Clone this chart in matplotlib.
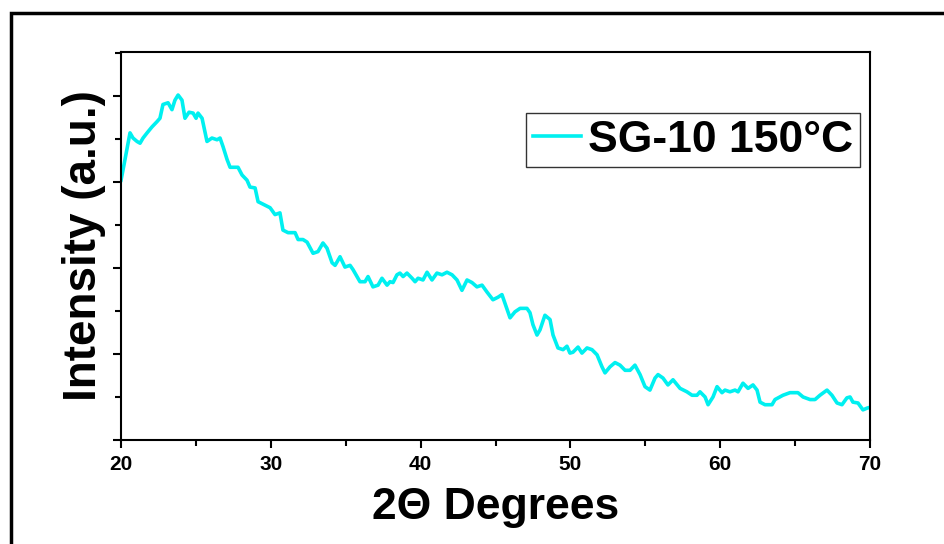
import numpy as np
import matplotlib.pyplot as plt
from matplotlib.patches import Rectangle

# XRD pattern (2theta in degrees, intensity in a.u.)
two_theta = [
    20.00, 20.20, 20.60, 20.80, 21.07, 21.27, 21.47, 21.74, 22.07, 22.40,
    22.60, 22.80, 23.14, 23.40, 23.60, 23.81, 24.07, 24.27, 24.54, 24.81,
    25.01, 25.14, 25.41, 25.74, 26.07, 26.41, 26.61, 26.81, 27.08, 27.28,
    27.61, 27.81, 28.08, 28.41, 28.61, 28.95, 29.15, 29.61, 29.95, 30.28,
    30.61, 30.81, 31.15, 31.62, 31.82, 32.15, 32.42, 32.82, 33.15, 33.48,
    33.75, 34.09, 34.29, 34.62, 34.95, 35.29, 35.49, 35.95, 36.29, 36.49,
    36.82, 37.16, 37.42, 37.76, 37.96, 38.16, 38.42, 38.62, 38.83, 39.09,
    39.43, 39.63, 39.83, 40.16, 40.43, 40.76, 41.09, 41.43, 41.76, 42.10,
    42.43, 42.76, 43.10, 43.43, 43.76, 44.10, 44.43, 44.83, 45.17, 45.43,
    45.63, 45.97, 46.30, 46.64, 47.10, 47.30, 47.50, 47.77, 47.97, 48.30,
    48.64, 48.84, 49.17, 49.51, 49.77, 49.97, 50.17, 50.51, 50.77, 51.11,
    51.44, 51.78, 52.11, 52.31, 52.64, 52.98, 53.31, 53.65, 53.98, 54.31,
    54.65, 54.98, 55.31, 55.65, 55.85, 56.18, 56.51, 56.85, 57.32, 57.78,
    58.12, 58.45, 58.65, 58.99, 59.19, 59.52, 59.79, 60.12, 60.32, 60.65,
    60.99, 61.19, 61.52, 61.86, 62.19, 62.46, 62.66, 62.99, 63.46, 63.66,
    64.19, 64.66, 65.19, 65.53, 66.00, 66.33, 66.66, 67.13, 67.46, 67.80,
    68.13, 68.46, 68.67, 68.86, 69.20, 69.53, 69.80, 70.00,
]
intensity = [
    302, 320, 357, 351, 347, 345, 351, 357, 364, 370,
    374, 390, 392, 384, 395, 401, 395, 374, 381, 380,
    374, 380, 374, 347, 351, 349, 351, 341, 326, 317,
    317, 317, 308, 302, 294, 293, 277, 273, 270, 262,
    264, 244, 241, 241, 233, 233, 230, 217, 219, 229,
    223, 206, 203, 213, 201, 203, 198, 184, 184, 190,
    178, 180, 188, 180, 184, 183, 192, 194, 190, 194,
    188, 184, 188, 186, 195, 186, 194, 192, 195, 192,
    186, 174, 186, 183, 178, 180, 172, 163, 166, 169,
    159, 142, 149, 153, 153, 148, 134, 122, 128, 145,
    140, 122, 107, 105, 109, 101, 102, 108, 101, 107,
    105, 99, 85, 78, 85, 90, 87, 81, 81, 87,
    76, 62, 58, 72, 76, 72, 64, 70, 60, 56,
    52, 52, 56, 50, 41, 50, 62, 55, 58, 56,
    58, 56, 66, 60, 64, 58, 44, 41, 41, 47,
    52, 55, 55, 50, 47, 47, 52, 58, 52, 43,
    41, 49, 50, 44, 43, 35, 37, 38,
]
x_ticks = [20, 30, 40, 50, 60, 70]
label = 'SG-10 150°C'

plt.rcParams['font.family'] = ['Liberation Sans', 'DejaVu Sans']
plt.rcParams['font.weight'] = 'bold'

fig = plt.figure(figsize=(9.44, 5.44), dpi=100)
ax = fig.add_axes([0.1282, 0.1912, 0.7934, 0.7132])

ax.plot(two_theta, intensity, color='#00f0f0', lw=2.6, label=label)

ax.set_xlim(20, 70)
ax.set_ylim(0, 451)
ax.set_xticks(x_ticks)
ax.set_xticks(np.arange(25, 70, 10), minor=True)
ax.set_yticks(np.arange(0, 451, 100))
ax.set_yticks(np.arange(50, 451, 100), minor=True)
ax.set_yticklabels([])
ax.tick_params(which='major', length=6, width=1.5, direction='out', labelsize=15, pad=5)
ax.tick_params(which='minor', length=4, width=1.5, direction='out')
for lbl in ax.get_xticklabels():
    lbl.set_fontweight('bold')
for sp in ax.spines.values():
    sp.set_linewidth(1.5)

ax.set_xlabel('2Θ Degrees', fontsize=32, fontweight='bold', labelpad=9)
ax.set_ylabel('Intensity (a.u.)', fontsize=33, fontweight='bold', labelpad=0)

leg = ax.legend(loc='upper right', bbox_to_anchor=(0.9866, 0.8428),
                borderaxespad=0, fancybox=False, framealpha=1,
                edgecolor='#333333', handlelength=1.1, handletextpad=0.15,
                borderpad=0.15, prop={'size': 32, 'weight': 'bold'})
leg.get_frame().set_linewidth(1.0)

# outer frame around the whole picture
fig.add_artist(Rectangle((0.0117, -0.1), 1.2, 1.077, transform=fig.transFigure,
                         fill=False, lw=2.5, edgecolor='black', clip_on=False))

fig.savefig('out.png', dpi=100)
